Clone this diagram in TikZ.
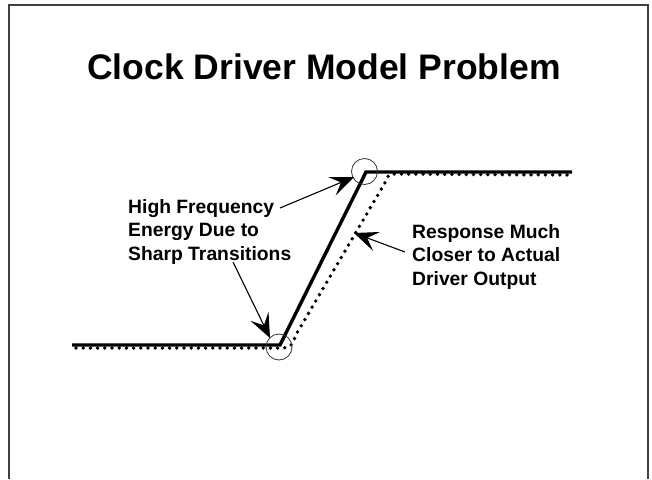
\documentclass[tikz,border=0pt]{standalone}
\usepackage{fontspec}
\setmainfont{Liberation Sans}
\usetikzlibrary{arrows.meta}
\begin{document}
\begin{tikzpicture}[x=1pt,y=-1pt,
  frame/.style={draw=black!75,line width=1.6pt},
  solidwave/.style={line width=3.4pt,line join=miter},
  dotwave/.style={line width=3.8pt,line cap=round,dash pattern=on 0pt off 7.2pt},
  ring/.style={draw=black!80,line width=0.8pt,circle,minimum size=26pt,inner sep=0pt},
  callout/.style={line width=1.1pt,-{Stealth[length=24pt,width=20pt,inset=10pt]}},
  label/.style={font=\fontsize{19.3}{23.5}\selectfont\bfseries,align=left,inner sep=0pt}]
\useasboundingbox (0,0) rectangle (652,479);
% frame
\draw[frame] (9,479) -- (9,5) -- (648,5) -- (648,479);
% title
\node[font=\fontsize{35.5}{40}\selectfont\bfseries,anchor=base,inner sep=0pt] (title) at (324,79) {Clock Driver Model Problem};
% waveform points
\coordinate (s0) at (72,345);
\coordinate (s1) at (280,345);
\coordinate (s2) at (366,172);
\coordinate (s3) at (572,172);
\coordinate (d0) at (76,348);
\coordinate (d1) at (283,348);
\coordinate (d2) at (393,174);
\coordinate (d3) at (572,175);
% dotted response
\draw[dotwave] (d0) -- (d1) .. controls (291,347) .. (297,333) -- (386,181) .. controls (389,174) .. (d2) -- (d3);
% solid waveform
\draw[solidwave] (s0) -- (s1) -- (s2) -- (s3);
% circles
\node[ring] (c1) at (364.5,171.5) {};
\node[ring] (c2) at (279,347) {};
% labels (base anchor = last line)
\node[label,anchor=base west] (lt) at (128,260) {High Frequency\\Energy Due to\\Sharp Transitions};
\node[label,anchor=base west] (rt) at (412,285) {Response Much\\Closer to Actual\\Driver Output};
% arrows
\coordinate (a1s) at (280,208);
\coordinate (a1e) at (354,177);
\coordinate (a2s) at (233,262);
\coordinate (a2e) at (270,338);
\coordinate (a3s) at (405,252);
\coordinate (a3e) at (354,233);
\draw[callout] (a1s) -- (a1e);
\draw[callout] (a2s) -- (a2e);
\draw[callout] (a3s) -- (a3e);
\end{tikzpicture}
\end{document}
